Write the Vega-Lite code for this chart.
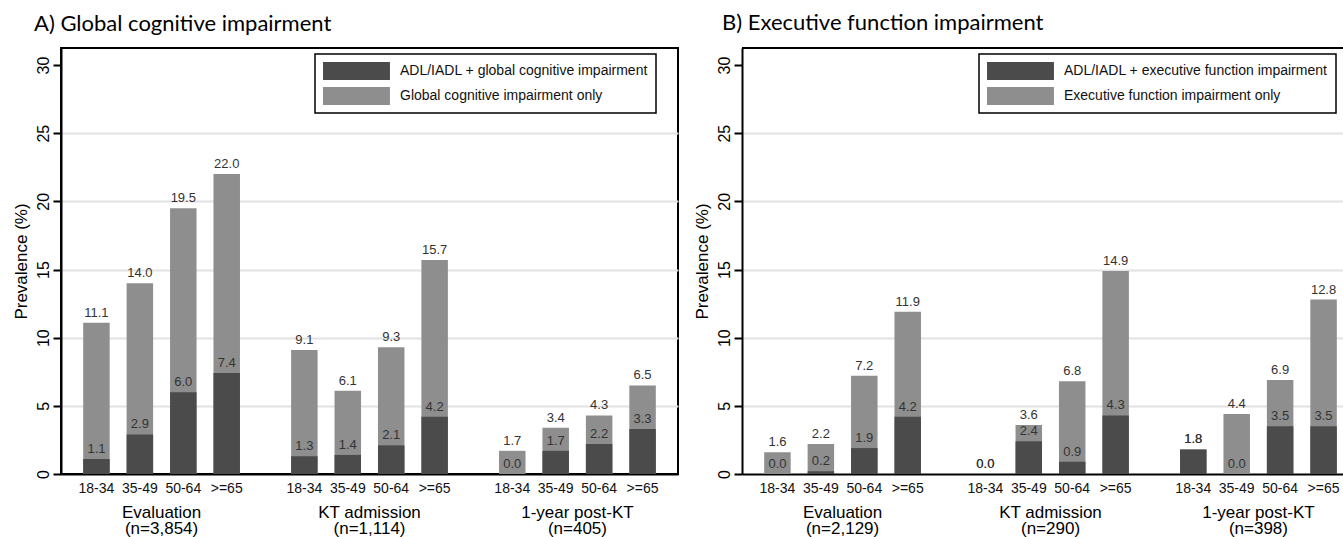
{
  "$schema": "https://vega.github.io/schema/vega-lite/v6.json",
  "padding": {"left": 11, "top": 12, "right": 0, "bottom": 0},
  "background": "white",
  "spacing": 14,
  "data": {"values": [
    {"panel": "A", "phase": "Evaluation|(n=3,854)", "age": "18-34", "kind": "light", "series": "Global cognitive impairment only", "value": 11.1},
    {"panel": "A", "phase": "Evaluation|(n=3,854)", "age": "18-34", "kind": "dark", "series": "ADL/IADL + global cognitive impairment", "value": 1.1},
    {"panel": "A", "phase": "Evaluation|(n=3,854)", "age": "35-49", "kind": "light", "series": "Global cognitive impairment only", "value": 14.0},
    {"panel": "A", "phase": "Evaluation|(n=3,854)", "age": "35-49", "kind": "dark", "series": "ADL/IADL + global cognitive impairment", "value": 2.9},
    {"panel": "A", "phase": "Evaluation|(n=3,854)", "age": "50-64", "kind": "light", "series": "Global cognitive impairment only", "value": 19.5},
    {"panel": "A", "phase": "Evaluation|(n=3,854)", "age": "50-64", "kind": "dark", "series": "ADL/IADL + global cognitive impairment", "value": 6.0},
    {"panel": "A", "phase": "Evaluation|(n=3,854)", "age": ">=65", "kind": "light", "series": "Global cognitive impairment only", "value": 22.0},
    {"panel": "A", "phase": "Evaluation|(n=3,854)", "age": ">=65", "kind": "dark", "series": "ADL/IADL + global cognitive impairment", "value": 7.4},
    {"panel": "A", "phase": "KT admission|(n=1,114)", "age": "18-34", "kind": "light", "series": "Global cognitive impairment only", "value": 9.1},
    {"panel": "A", "phase": "KT admission|(n=1,114)", "age": "18-34", "kind": "dark", "series": "ADL/IADL + global cognitive impairment", "value": 1.3},
    {"panel": "A", "phase": "KT admission|(n=1,114)", "age": "35-49", "kind": "light", "series": "Global cognitive impairment only", "value": 6.1},
    {"panel": "A", "phase": "KT admission|(n=1,114)", "age": "35-49", "kind": "dark", "series": "ADL/IADL + global cognitive impairment", "value": 1.4},
    {"panel": "A", "phase": "KT admission|(n=1,114)", "age": "50-64", "kind": "light", "series": "Global cognitive impairment only", "value": 9.3},
    {"panel": "A", "phase": "KT admission|(n=1,114)", "age": "50-64", "kind": "dark", "series": "ADL/IADL + global cognitive impairment", "value": 2.1},
    {"panel": "A", "phase": "KT admission|(n=1,114)", "age": ">=65", "kind": "light", "series": "Global cognitive impairment only", "value": 15.7},
    {"panel": "A", "phase": "KT admission|(n=1,114)", "age": ">=65", "kind": "dark", "series": "ADL/IADL + global cognitive impairment", "value": 4.2},
    {"panel": "A", "phase": "1-year post-KT|(n=405)", "age": "18-34", "kind": "light", "series": "Global cognitive impairment only", "value": 1.7},
    {"panel": "A", "phase": "1-year post-KT|(n=405)", "age": "18-34", "kind": "dark", "series": "ADL/IADL + global cognitive impairment", "value": 0.0},
    {"panel": "A", "phase": "1-year post-KT|(n=405)", "age": "35-49", "kind": "light", "series": "Global cognitive impairment only", "value": 3.4},
    {"panel": "A", "phase": "1-year post-KT|(n=405)", "age": "35-49", "kind": "dark", "series": "ADL/IADL + global cognitive impairment", "value": 1.7},
    {"panel": "A", "phase": "1-year post-KT|(n=405)", "age": "50-64", "kind": "light", "series": "Global cognitive impairment only", "value": 4.3},
    {"panel": "A", "phase": "1-year post-KT|(n=405)", "age": "50-64", "kind": "dark", "series": "ADL/IADL + global cognitive impairment", "value": 2.2},
    {"panel": "A", "phase": "1-year post-KT|(n=405)", "age": ">=65", "kind": "light", "series": "Global cognitive impairment only", "value": 6.5},
    {"panel": "A", "phase": "1-year post-KT|(n=405)", "age": ">=65", "kind": "dark", "series": "ADL/IADL + global cognitive impairment", "value": 3.3},
    {"panel": "B", "phase": "Evaluation|(n=2,129)", "age": "18-34", "kind": "light", "series": "Executive function impairment only", "value": 1.6},
    {"panel": "B", "phase": "Evaluation|(n=2,129)", "age": "18-34", "kind": "dark", "series": "ADL/IADL + executive function impairment", "value": 0.0},
    {"panel": "B", "phase": "Evaluation|(n=2,129)", "age": "35-49", "kind": "light", "series": "Executive function impairment only", "value": 2.2},
    {"panel": "B", "phase": "Evaluation|(n=2,129)", "age": "35-49", "kind": "dark", "series": "ADL/IADL + executive function impairment", "value": 0.2},
    {"panel": "B", "phase": "Evaluation|(n=2,129)", "age": "50-64", "kind": "light", "series": "Executive function impairment only", "value": 7.2},
    {"panel": "B", "phase": "Evaluation|(n=2,129)", "age": "50-64", "kind": "dark", "series": "ADL/IADL + executive function impairment", "value": 1.9},
    {"panel": "B", "phase": "Evaluation|(n=2,129)", "age": ">=65", "kind": "light", "series": "Executive function impairment only", "value": 11.9},
    {"panel": "B", "phase": "Evaluation|(n=2,129)", "age": ">=65", "kind": "dark", "series": "ADL/IADL + executive function impairment", "value": 4.2},
    {"panel": "B", "phase": "KT admission|(n=290)", "age": "18-34", "kind": "light", "series": "Executive function impairment only", "value": 0.0},
    {"panel": "B", "phase": "KT admission|(n=290)", "age": "18-34", "kind": "dark", "series": "ADL/IADL + executive function impairment", "value": 0.0},
    {"panel": "B", "phase": "KT admission|(n=290)", "age": "35-49", "kind": "light", "series": "Executive function impairment only", "value": 3.6},
    {"panel": "B", "phase": "KT admission|(n=290)", "age": "35-49", "kind": "dark", "series": "ADL/IADL + executive function impairment", "value": 2.4},
    {"panel": "B", "phase": "KT admission|(n=290)", "age": "50-64", "kind": "light", "series": "Executive function impairment only", "value": 6.8},
    {"panel": "B", "phase": "KT admission|(n=290)", "age": "50-64", "kind": "dark", "series": "ADL/IADL + executive function impairment", "value": 0.9},
    {"panel": "B", "phase": "KT admission|(n=290)", "age": ">=65", "kind": "light", "series": "Executive function impairment only", "value": 14.9},
    {"panel": "B", "phase": "KT admission|(n=290)", "age": ">=65", "kind": "dark", "series": "ADL/IADL + executive function impairment", "value": 4.3},
    {"panel": "B", "phase": "1-year post-KT|(n=398)", "age": "18-34", "kind": "light", "series": "Executive function impairment only", "value": 1.8},
    {"panel": "B", "phase": "1-year post-KT|(n=398)", "age": "18-34", "kind": "dark", "series": "ADL/IADL + executive function impairment", "value": 1.8},
    {"panel": "B", "phase": "1-year post-KT|(n=398)", "age": "35-49", "kind": "light", "series": "Executive function impairment only", "value": 4.4},
    {"panel": "B", "phase": "1-year post-KT|(n=398)", "age": "35-49", "kind": "dark", "series": "ADL/IADL + executive function impairment", "value": 0.0},
    {"panel": "B", "phase": "1-year post-KT|(n=398)", "age": "50-64", "kind": "light", "series": "Executive function impairment only", "value": 6.9},
    {"panel": "B", "phase": "1-year post-KT|(n=398)", "age": "50-64", "kind": "dark", "series": "ADL/IADL + executive function impairment", "value": 3.5},
    {"panel": "B", "phase": "1-year post-KT|(n=398)", "age": ">=65", "kind": "light", "series": "Executive function impairment only", "value": 12.8},
    {"panel": "B", "phase": "1-year post-KT|(n=398)", "age": ">=65", "kind": "dark", "series": "ADL/IADL + executive function impairment", "value": 3.5}
  ]},
  "hconcat": [
    {
      "title": {"text": "A) Global cognitive impairment", "anchor": "start", "frame": "group", "dx": -27, "offset": 12},
      "width": 617,
      "height": 426,
      "transform": [{"filter": "datum.panel == 'A'"}],
      "encoding": {
        "x": {"field": "phase", "type": "nominal", "sort": null, "title": null,
              "scale": {"paddingInner": 0.1645, "paddingOuter": 0.066},
              "axis": {"ticks": false, "labelAngle": 0, "labelFontSize": 17, "labelPadding": 30, "labelLineHeight": 16.5, "labelBaseline": "top", "labelExpr": "split(datum.label, '|')", "domainWidth": 2, "domainColor": "black"}},
        "xOffset": {"field": "age", "type": "nominal", "sort": null, "scale": {"paddingInner": 0.39, "paddingOuter": 0.195}}
      },
      "layer": [
        {
          "mark": {"type": "bar"},
          "encoding": {
            "y": {"field": "value", "type": "quantitative", "stack": null,
                  "scale": {"domain": [0, 31.25], "nice": false, "zero": true},
                  "axis": {"values": [0, 5, 10, 15, 20, 25, 30], "title": "Prevalence (%)", "labelAngle": -90, "labelAlign": "center", "labelBaseline": "bottom", "labelFontSize": 16, "labelPadding": 2, "tickSize": 8, "tickWidth": 2, "titleFontSize": 17, "titleFontWeight": "normal", "titlePadding": 5, "grid": true, "gridColor": "#e2e2e2", "gridWidth": 2, "gridOpacity": {"condition": {"test": "datum.value == 0 || datum.value == 30", "value": 0}, "value": 1}}},
            "color": {"field": "series", "type": "nominal", "title": null,
                      "scale": {"domain": ["ADL/IADL + global cognitive impairment", "Global cognitive impairment only"], "range": ["#4b4b4b", "#8e8e8e"]},
                      "legend": {"orient": "none", "legendX": 254, "legendY": 6}}
          }
        },
        {
          "mark": {"type": "text", "baseline": "bottom", "dy": -3, "fontSize": 13, "color": "#333333"},
          "encoding": {
            "y": {"field": "value", "type": "quantitative"},
            "text": {"field": "value", "type": "quantitative", "format": ".1f"}
          }
        },
        {
          "transform": [{"filter": "datum.kind == 'light'"}],
          "mark": {"type": "text", "baseline": "middle", "dy": 15, "fontSize": 14, "color": "#111111"},
          "encoding": {
            "y": {"datum": 0, "type": "quantitative"},
            "text": {"field": "age", "type": "nominal"}
          }
        }
      ]
    },
    {
      "title": {"text": "B) Executive function impairment", "anchor": "start", "frame": "group", "dx": -20, "offset": 12},
      "width": 606,
      "height": 426,
      "view": {"stroke": null},
      "transform": [{"filter": "datum.panel == 'B'"}],
      "layer": [
        {
          "mark": {"type": "bar"},
          "encoding": {
            "x": {"field": "phase", "type": "nominal", "sort": null, "title": null,
                  "scale": {"paddingInner": 0.1645, "paddingOuter": 0.066, "range": [0, 617]},
                  "axis": {"ticks": false, "labelAngle": 0, "labelFontSize": 17, "labelPadding": 30, "labelLineHeight": 16.5, "labelBaseline": "top", "labelExpr": "split(datum.label, '|')", "domainWidth": 2, "domainColor": "black"}},
            "xOffset": {"field": "age", "type": "nominal", "sort": null, "scale": {"paddingInner": 0.39, "paddingOuter": 0.195}},
            "y": {"field": "value", "type": "quantitative", "stack": null,
                  "scale": {"domain": [0, 31.25], "nice": false, "zero": true},
                  "axis": {"values": [0, 5, 10, 15, 20, 25, 30], "title": "Prevalence (%)", "labelAngle": -90, "labelAlign": "center", "labelBaseline": "bottom", "labelFontSize": 16, "labelPadding": 2, "tickSize": 8, "tickWidth": 2, "titleFontSize": 17, "titleFontWeight": "normal", "titlePadding": 5, "grid": true, "gridColor": "#e2e2e2", "gridWidth": 2, "gridOpacity": {"condition": {"test": "datum.value == 0 || datum.value == 30", "value": 0}, "value": 1}}},
            "color": {"field": "series", "type": "nominal", "title": null,
                      "scale": {"domain": ["ADL/IADL + executive function impairment", "Executive function impairment only"], "range": ["#4b4b4b", "#8e8e8e"]},
                      "legend": {"orient": "none", "legendX": 237, "legendY": 6}}
          }
        },
        {
          "mark": {"type": "rule", "color": "black", "strokeWidth": 2},
          "encoding": {"y": {"datum": 31.25, "type": "quantitative"}}
        },
        {
          "mark": {"type": "text", "baseline": "bottom", "dy": -3, "fontSize": 13, "color": "#333333"},
          "encoding": {
            "x": {"field": "phase", "type": "nominal", "sort": null},
            "xOffset": {"field": "age", "type": "nominal", "sort": null},
            "y": {"field": "value", "type": "quantitative"},
            "text": {"field": "value", "type": "quantitative", "format": ".1f"}
          }
        },
        {
          "transform": [{"filter": "datum.kind == 'light'"}],
          "mark": {"type": "text", "baseline": "middle", "dy": 15, "fontSize": 14, "color": "#111111"},
          "encoding": {
            "x": {"field": "phase", "type": "nominal", "sort": null},
            "xOffset": {"field": "age", "type": "nominal", "sort": null},
            "y": {"datum": 0, "type": "quantitative"},
            "text": {"field": "age", "type": "nominal"}
          }
        }
      ]
    }
  ],
  "resolve": {"scale": {"color": "independent"}},
  "config": {
    "font": "Liberation Sans",
    "view": {"stroke": "black", "strokeWidth": 2},
    "axis": {"domainColor": "black", "domainWidth": 2, "tickColor": "black", "labelColor": "black", "titleColor": "black", "labelFont": "Liberation Sans", "titleFont": "Liberation Sans"},
    "title": {"font": "Lato", "fontSize": 22, "fontWeight": "normal", "color": "black"},
    "legend": {"padding": 8, "strokeColor": "black", "strokeWidth": 1.5, "fillColor": "white", "symbolType": "M-1,-1H6.44V1H-1Z", "symbolSize": 324, "symbolStrokeWidth": 0, "symbolOpacity": 1, "labelFontSize": 14, "labelFont": "Liberation Sans", "labelColor": "#111111", "labelOffset": 59, "rowPadding": 7, "labelLimit": 400, "labelExpr": "datum.label + '    '"}
  }
}
